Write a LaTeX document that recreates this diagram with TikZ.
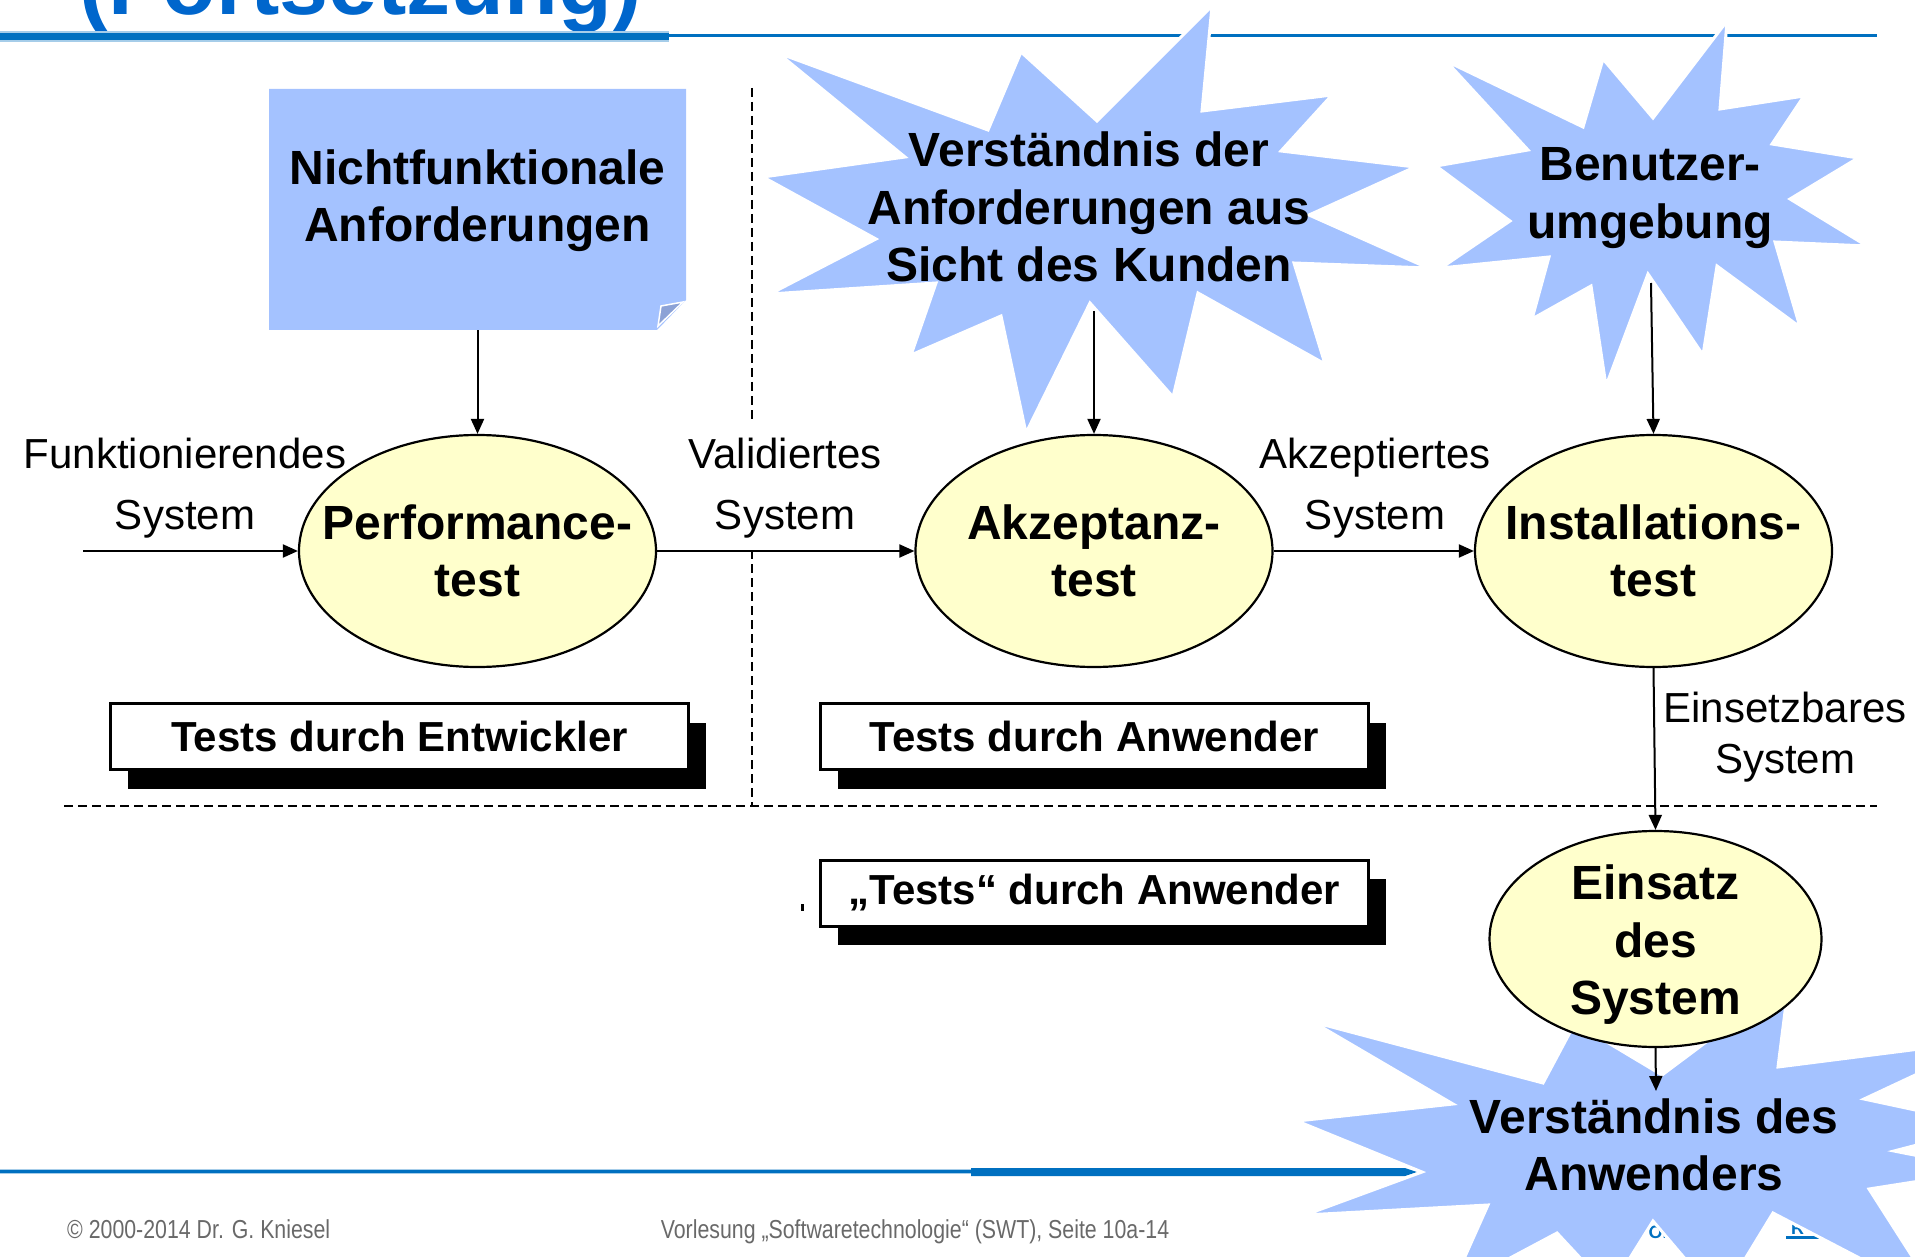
\documentclass[tikz,border=0pt]{standalone}
\usepackage{fontspec}
\setmainfont{Liberation Sans}
\newfontfamily\narrowfont[FakeStretch=0.82]{Liberation Sans}
\usetikzlibrary{shapes.geometric,arrows.meta,shadows}
\definecolor{burst}{RGB}{164,194,255}
\definecolor{elly}{RGB}{255,255,204}
\definecolor{barblue}{RGB}{0,112,192}
\definecolor{titleblue}{RGB}{0,102,204}
\definecolor{foldblue}{RGB}{140,162,214}
\definecolor{footgray}{RGB}{105,105,105}
\begin{document}
\begin{tikzpicture}[x=1pt,y=-1pt,
  bigbold/.style={font=\fontsize{48}{57.5}\selectfont\bfseries, align=center, inner sep=0pt},
  proc/.style={ellipse, draw=black, line width=2.2pt, fill=elly, minimum width=357pt, minimum height=232pt, inner sep=0pt},
  lbl/.style={font=\fontsize{42}{61}\selectfont, align=center, inner sep=0pt},
  conn/.style={line width=2pt, -{Triangle[length=15pt,width=13pt]}},
  burstshape/.style={fill=burst, draw=white, line width=3pt},
  sepline/.style={line width=2pt, dash pattern=on 9pt off 5pt},
  testbox/.style={draw=black, line width=3pt, fill=white, minimum height=66pt, inner sep=0pt,
    font=\fontsize{42}{50}\selectfont\bfseries,
    general shadow={fill=black, shadow xshift=17pt, shadow yshift=-19pt}},
  foot/.style={font=\narrowfont\fontsize{26}{30}\selectfont, text=footgray, inner sep=0pt, anchor=base},
  logo/.style={font=\fontsize{18}{18}\selectfont\bfseries, text=barblue, inner sep=0pt}
]
\useasboundingbox (0,0) rectangle (1915,1257);
\clip (0,0) rectangle (1915,1257);

% title and top bars
\node[anchor=base west, inner sep=0pt, font=\fontsize{88}{100}\selectfont\bfseries, text=titleblue] (title) at (79,15) {(Fortsetzung)};
\fill[barblue!35] (0,31) rectangle (669,42);
\fill[barblue] (0,33) rectangle (669,40);
\draw[barblue, line width=3pt] (669,36) -- (1877,36);

% separators
\draw[sepline] (752,88) -- (752,806);
\draw[sepline] (64,806) -- (1877,806);

% note box
\path[fill=burst] (269,89) -- (686,89) -- (686,300) -- (657,330) -- (269,330) -- cycle;
\path[fill=foldblue, draw=white, line width=1.5pt] (661,306) -- (683,302) -- (658,326) -- cycle;
\node[bigbold, minimum width=417pt, minimum height=241pt] (note) at (477.5,209.5) {Nichtfunktionale\\Anforderungen\rule[-28pt]{0pt}{28pt}};

% starburst 1
\path[burstshape] (778,53) -- (988,130) -- (1021,52) -- (1097,121) -- (1212,6) -- (1202,111)
  -- (1332,95) -- (1281,151) -- (1415,167) -- (1309,215) -- (1428,268) -- (1294,263)
  -- (1325,364) -- (1198,293) -- (1173,397) -- (1090,303) -- (1026,433) -- (1001,316)
  -- (911,355) -- (936,283) -- (770,294) -- (876,239) -- (763,177) -- (905,157) -- cycle;
\node[bigbold] (sb1) at (1089,207) {Verständnis der\\Anforderungen aus\\Sicht des Kunden};
\coordinate (sb1out) at (1094,311);

% starburst 2
\path[burstshape] (1446,61) -- (1583,127) -- (1603,59) -- (1653,118) -- (1727,21) -- (1720,109)
  -- (1804,96) -- (1772,144) -- (1858,158) -- (1790,199) -- (1867,246) -- (1775,242)
  -- (1800,327) -- (1717,266) -- (1703,355) -- (1648,274) -- (1606,386) -- (1591,286)
  -- (1532,319) -- (1549,257) -- (1441,268) -- (1510,221) -- (1436,166) -- (1528,150) -- cycle;
\node[bigbold] (sb2) at (1650,198) {Benutzer-\\umgebung};
\coordinate (sb2out) at (1651,283);

% flow labels
\node[lbl] (lfunk) at (185,488) {Funktionierendes\\System};
\node[lbl, fill=white, inner xsep=4pt, inner ysep=14pt] (lvalid) at (785,488) {Validiertes\\System};
\node[lbl] (lakz) at (1375,488) {Akzeptiertes\\System};
\node[lbl, font=\fontsize{42}{51}\selectfont] (leins) at (1785,737) {Einsetzbares\\System};

% process ellipses
\node[proc] (perf) at (477.5,551) {};
\node[bigbold] (perft) at (perf.center) {Performance-\\test};
\node[proc] (akz) at (1094,551) {};
\node[bigbold] (akzt) at (akz.center) {Akzeptanz-\\test};
\node[proc] (inst) at (1653.5,551) {};
\node[bigbold] (instt) at (inst.center) {Installations-\\test};

% connectors
\coordinate (start) at (83,551);
\draw[conn] (start) -- (perf.west);
\draw[conn] (perf.east) -- (akz.west);
\draw[conn] (akz.east) -- (inst.west);
\draw[conn] (note.south) -- (perf.north);
\draw[conn] (sb1out) -- (akz.north);
\draw[conn] (sb2out) -- (inst.north);

% test boxes
\node[testbox, minimum width=578pt] (tdev) at (399.5,736.5) {Tests durch Entwickler};
\node[testbox, minimum width=548pt] (tuser) at (1094.5,736.5) {Tests durch Anwender};
\node[testbox, minimum width=548pt] (tuse2) at (1094.5,893) {„Tests“ durch Anwender};
\fill (801,904) rectangle (804,911);

% footer bars
\draw[barblue!35, line width=4.5pt] (0,1171.5) -- (971,1171.5);
\draw[barblue, line width=2.5pt] (0,1171.5) -- (971,1171.5);
\fill[barblue] (971,1168) -- (1405,1168) -- (1417,1172) -- (1405,1176) -- (971,1176) -- cycle;
\node[logo] (logo1) at (1658,1232) {O.};
\node[logo] (logo2) at (1806,1228) {R S};
\fill[barblue] (1786,1236) rectangle (1828,1239);
\node[foot, anchor=base west] (copy) at (67,1238) {© 2000-2014 Dr. G. Kniesel};
\node[foot] (lect) at (915,1238) {Vorlesung „Softwaretechnologie“ (SWT), Seite 10a-14};

% starburst 3
\path[burstshape] (1313,1022) -- (1543,1083) -- (1575,1023) -- (1662,1075) -- (1789,980) -- (1778,1067)
  -- (1990,1040) -- (1864,1099) -- (1990,1126) -- (1894,1151) -- (1990,1170) -- (1869,1189)
  -- (1940,1300) -- (1773,1213) -- (1720,1300) -- (1653,1221) -- (1610,1290) -- (1557,1233)
  -- (1450,1290) -- (1488,1205) -- (1305,1215) -- (1422,1172) -- (1297,1121) -- (1453,1104) -- cycle;
\node[bigbold] (sb3) at (1654,1145) {Verständnis des\\Anwenders};
\coordinate (sb3in) at (1656,1091);

% deployment
\node[proc, minimum width=332pt, minimum height=216pt] (eins) at (1655.5,939) {};
\node[bigbold] (einst) at (eins.center) {\rule{0pt}{46pt}Einsatz\\des\\System};
\draw[conn] (inst.south) -- (eins.north);
\draw[conn] (eins.south) -- (sb3in);
\end{tikzpicture}
\end{document}
